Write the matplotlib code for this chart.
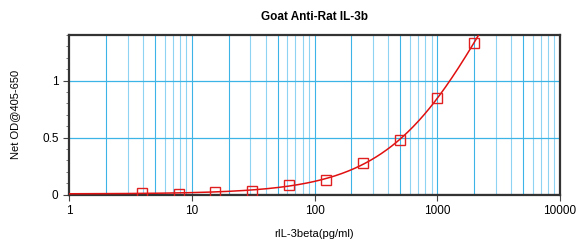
import numpy as np
import matplotlib
matplotlib.use('Agg')
import matplotlib.pyplot as plt
from matplotlib.ticker import FixedLocator, MultipleLocator

plt.rcParams['font.family'] = ['Liberation Sans', 'DejaVu Sans']

# standard curve data
conc = [3.9, 7.8, 15.6, 31.25, 62.5, 125, 250, 500, 1000, 2000]
od = [0.015, 0.005, 0.025, 0.035, 0.087, 0.13, 0.278, 0.478, 0.85, 1.333]

# 4PL fit: grid over slope / midpoint, least squares for the two asymptotes
x = np.array(conc)
y = np.array(od)
best = None
for b in np.linspace(0.5, 2.5, 81):
    for c in np.logspace(2, 5, 121):
        g = 1 / (1 + (x / c) ** b)
        A = np.column_stack([g, 1 - g])
        sol, *_ = np.linalg.lstsq(A, y, rcond=None)
        err = np.sum((A @ sol - y) ** 2)
        if best is None or err < best[0]:
            best = (err, b, c, sol)
_, b, c, (a, d) = best
xs = np.logspace(0, np.log10(3000), 400)
ys = d + (a - d) / (1 + (xs / c) ** b)

fig = plt.figure(figsize=(5.76, 2.42), dpi=100)
ax = fig.add_axes([69/576, 1 - 194.5/242, 491/576, 159.5/242])

grid_col = '#3cb4e6'
for dec in [1, 10, 100, 1000]:
    for m in range(1, 10):
        v = dec * m
        if v <= 1 or v >= 10000:
            continue
        ax.axvline(v, color=grid_col if m in (1, 2, 5) else '#8fd3f2', lw=0.8, zorder=1)
for yv in [0.5, 1.0]:
    ax.axhline(yv, color=grid_col, lw=0.9, zorder=1)

ax.plot(xs, ys, color='#e01010', lw=1.1, zorder=3)
ax.plot(conc, od, ls='none', marker='s', ms=7, mfc='none', mec='#e02020', mew=1.0, zorder=4)
ax.axhline(0, color='black', lw=1.5, zorder=2)

ax.set_xscale('log')
ax.set_xlim(1, 10000)
ax.set_ylim(0, 1.4)
ax.xaxis.set_major_locator(FixedLocator([1, 10, 100, 1000, 10000]))
ax.set_xticklabels(['1', '10', '100', '1000', '10000'])
ax.xaxis.set_minor_locator(FixedLocator([]))
ax.yaxis.set_major_locator(FixedLocator([0, 0.5, 1]))
ax.set_yticklabels(['0', '0.5', '1'])
ax.yaxis.set_minor_locator(MultipleLocator(0.1))

ax.tick_params(axis='both', which='major', labelsize=8.5, length=4, width=0.8, color='#444444', direction='out')
ax.tick_params(axis='y', which='minor', length=2.5, width=0.6, color='#666666', direction='out')

for s in ax.spines.values():
    s.set_color('#333333')
    s.set_linewidth(1.6)

ax.set_title('Goat Anti-Rat IL-3b', fontsize=8.5, fontweight='bold', pad=11)
ax.set_xlabel('rIL-3beta(pg/ml)', fontsize=8, labelpad=9)
ax.set_ylabel('Net OD@405-650', fontsize=8, labelpad=16)

fig.savefig('out.png', dpi=100)
